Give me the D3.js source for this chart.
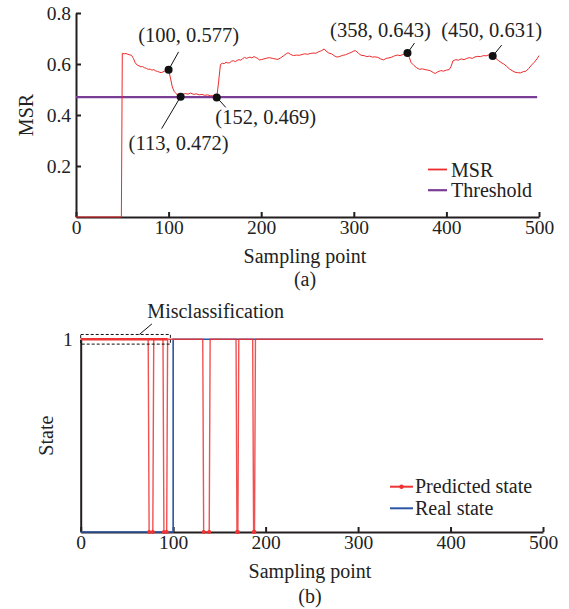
<!DOCTYPE html>
<html>
  <head>
    <meta charset="UTF-8" />
    <title>MSR and state</title>
    <script src="https://cdn.jsdelivr.net/npm/d3@7"></script>
    <style>
      body { margin: 0; background: #fff; }
      svg text { font-family: 'Liberation Serif', 'Times New Roman', 'DejaVu Serif', serif; }
    </style>
  </head>
  <body>
    <svg></svg>
    <script>
      // 1. data
      const xTicks = [0, 100, 200, 300, 400, 500];
      const msrTicks = [0.2, 0.4, 0.6, 0.8];
      const stateTicks = [1];
      const threshold = 0.47;

      // MSR curve: [sampling point, value]
      const msrSeries = [
        [0, 0], [49, 0], [50, 0.642], [52, 0.64], [54, 0.641], [56, 0.638], [58, 0.636],
        [60, 0.634], [62, 0.622], [64, 0.605], [66, 0.596], [68, 0.593], [70, 0.589],
        [72, 0.59], [74, 0.585], [76, 0.583], [78, 0.579], [80, 0.58], [82, 0.576],
        [84, 0.578], [86, 0.573], [88, 0.571], [90, 0.568], [92, 0.566], [94, 0.569],
        [96, 0.573], [98, 0.578], [100, 0.577], [102, 0.545], [104, 0.51], [106, 0.493],
        [108, 0.484], [110, 0.478], [113, 0.472], [115, 0.481], [118, 0.484], [121, 0.482],
        [124, 0.486], [127, 0.481], [130, 0.483], [133, 0.479], [136, 0.481], [139, 0.477],
        [142, 0.479], [145, 0.476], [148, 0.475], [150, 0.472], [152, 0.469], [154, 0.53],
        [156, 0.598], [158, 0.603], [160, 0.601], [162, 0.607], [164, 0.604], [166, 0.605],
        [168, 0.611], [170, 0.613], [172, 0.609], [174, 0.614], [176, 0.617], [178, 0.615],
        [180, 0.621], [182, 0.626], [184, 0.622], [186, 0.625], [188, 0.627], [190, 0.624],
        [192, 0.629], [194, 0.626], [196, 0.622], [198, 0.616], [200, 0.617], [203, 0.62],
        [206, 0.623], [209, 0.625], [212, 0.622], [215, 0.62], [218, 0.618], [221, 0.624],
        [224, 0.632], [227, 0.64], [229, 0.644], [232, 0.637], [235, 0.633], [238, 0.635],
        [241, 0.634], [244, 0.637], [247, 0.64], [250, 0.638], [253, 0.641], [256, 0.643],
        [259, 0.642], [262, 0.648], [265, 0.652], [268, 0.659], [270, 0.651], [273, 0.643],
        [276, 0.64], [279, 0.632], [282, 0.627], [285, 0.63], [288, 0.634], [291, 0.636],
        [294, 0.641], [297, 0.645], [300, 0.651], [302, 0.652], [305, 0.642], [308, 0.634],
        [311, 0.633], [314, 0.629], [317, 0.631], [320, 0.627], [323, 0.628], [326, 0.626],
        [329, 0.62], [332, 0.616], [335, 0.622], [338, 0.624], [341, 0.627], [344, 0.632],
        [347, 0.635], [350, 0.633], [353, 0.637], [356, 0.641], [358, 0.643], [360, 0.625],
        [362, 0.605], [365, 0.594], [368, 0.585], [371, 0.579], [374, 0.581], [377, 0.578],
        [380, 0.576], [383, 0.573], [386, 0.566], [388, 0.563], [391, 0.57], [394, 0.574],
        [397, 0.572], [400, 0.576], [403, 0.578], [405, 0.59], [407, 0.612], [410, 0.617],
        [413, 0.615], [416, 0.62], [419, 0.617], [422, 0.622], [425, 0.625], [428, 0.622],
        [431, 0.628], [434, 0.63], [437, 0.629], [440, 0.633], [443, 0.632], [446, 0.636],
        [448, 0.634], [450, 0.631], [453, 0.623], [456, 0.614], [459, 0.606], [462, 0.6],
        [465, 0.591], [468, 0.581], [471, 0.574], [474, 0.568], [477, 0.566], [480, 0.565],
        [483, 0.57], [486, 0.572], [489, 0.583], [492, 0.596], [495, 0.607], [498, 0.621],
        [500, 0.633]
      ];

      // annotated points
      const annPoints = [[100, 0.577], [113, 0.472], [152, 0.469], [358, 0.643], [450, 0.631]];

      // predicted / real state (change points)
      const predX = [0, 73, 74, 78, 79, 89, 90, 93, 94, 132, 133, 139, 140, 168, 169, 170, 171, 186, 187, 188, 189, 500];
      const predY = [1, 1, 0, 0, 1, 1, 0, 0, 1, 1, 0, 0, 1, 1, 0, 0, 1, 1, 0, 0, 1, 1];
      const realX = [0, 100, 100, 500];
      const realY = [0, 0, 1, 1];
      // misclassification box: x range, y range
      const boxX = [0, 97];
      const boxY = [0.975, 1.025];

      // 2. setup
      const width = 569;
      const height = 609;
      const font = "'Liberation Serif', 'Times New Roman', 'DejaVu Serif', serif";
      const axisColor = '#231f20';
      const colorMsr = '#ee2b2b';
      const colorThr = '#7a3e96';
      const colorPred = '#ee3333';
      const colorReal = '#2b55a6';

      const svg = d3
        .select('svg')
        .attr('width', width)
        .attr('height', height)
        .style('font-family', font)
        .style('font-size', '20px');

      function styleAxis(g) {
        g.attr('font-family', null).attr('font-size', null);
        g.select('.domain').attr('stroke', axisColor).attr('stroke-width', 2);
        g.selectAll('.tick line').attr('stroke', axisColor).attr('stroke-width', 2);
        g.selectAll('.tick text')
          .attr('fill', '#222')
          .style('font-family', font)
          .style('font-size', '19.5px');
      }

      // 3. top chart (a)
      const xA = d3.scaleLinear().domain([0, 500]).range([76, 539]);
      const yA = d3.scaleLinear().domain([0, 0.8]).range([217, 13]);

      svg
        .append('g')
        .attr('transform', `translate(0,${yA(0)})`)
        .call(d3.axisBottom(xA).tickValues(xTicks).tickSizeInner(-5).tickSizeOuter(0).tickPadding(3).tickFormat(d3.format('d')))
        .call(styleAxis);
      svg
        .append('g')
        .attr('transform', `translate(${xA(0)},0)`)
        .call(d3.axisLeft(yA).tickValues(msrTicks).tickSizeInner(-5).tickSizeOuter(0).tickPadding(5).tickFormat(d3.format('.1f')))
        .call(styleAxis);

      svg
        .append('line')
        .attr('x1', xA(0))
        .attr('x2', xA(498))
        .attr('y1', yA(threshold))
        .attr('y2', yA(threshold))
        .attr('stroke', colorThr)
        .attr('stroke-width', 2.2);

      const lineA = d3
        .line()
        .x((d) => xA(d[0]))
        .y((d) => yA(d[1]));
      svg
        .append('path')
        .datum(msrSeries)
        .attr('d', lineA)
        .attr('fill', 'none')
        .attr('stroke', colorMsr)
        .attr('stroke-width', 1);

      // annotations: leader offset and label offset in px
      const annLeader = [[10, -18], [-19, 32], [9, 10], [7, -10], [9, -11]];
      const annLabel = [[20, -28], [-2, 53], [49, 27], [-27, -16], [-1, -19]];
      const ann = svg.append('g');
      annPoints.forEach((p, i) => {
        const cx = xA(p[0]);
        const cy = yA(p[1]);
        ann
          .append('line')
          .attr('x1', cx)
          .attr('y1', cy)
          .attr('x2', cx + annLeader[i][0])
          .attr('y2', cy + annLeader[i][1])
          .attr('stroke', '#111')
          .attr('stroke-width', 1);
        ann.append('circle').attr('cx', cx).attr('cy', cy).attr('r', 4).attr('fill', '#111');
        ann
          .append('text')
          .attr('x', cx + annLabel[i][0])
          .attr('y', cy + annLabel[i][1])
          .attr('text-anchor', 'middle')
          .attr('fill', '#222')
          .style('font-size', '20.5px')
          .text(`(${p[0]}, ${p[1].toFixed(3)})`);
      });

      // legend (a)
      const legA = [
        ['MSR', colorMsr, 1.8],
        ['Threshold', colorThr, 2.2]
      ];
      legA.forEach((d, i) => {
        const y = 169.5 + i * 20.7;
        svg.append('line').attr('x1', 428).attr('x2', 447).attr('y1', y).attr('y2', y).attr('stroke', d[1]).attr('stroke-width', d[2]);
        svg.append('text').attr('x', 451).attr('y', y + 7).attr('fill', '#222').text(d[0]);
      });

      svg.append('text').attr('x', 305).attr('y', 263).attr('text-anchor', 'middle').attr('fill', '#222').text('Sampling point');
      svg.append('text').attr('x', 305).attr('y', 286).attr('text-anchor', 'middle').attr('fill', '#222').text('(a)');
      svg
        .append('text')
        .attr('transform', `translate(33,${(yA(0) + yA(0.8)) / 2}) rotate(-90)`)
        .attr('text-anchor', 'middle')
        .attr('fill', '#222')
        .text('MSR');

      // 4. bottom chart (b)
      const xB = d3.scaleLinear().domain([0, 500]).range([80.7, 543]);
      const yB = d3.scaleLinear().domain([0, 1]).range([532, 339.3]);

      svg
        .append('g')
        .attr('transform', `translate(0,${yB(0)})`)
        .call(d3.axisBottom(xB).tickValues(xTicks).tickSizeInner(-5).tickSizeOuter(0).tickPadding(3).tickFormat(d3.format('d')))
        .call(styleAxis);
      svg
        .append('g')
        .attr('transform', `translate(${xB(0)},0)`)
        .call(d3.axisLeft(yB).tickValues(stateTicks).tickSizeInner(0).tickSizeOuter(0).tickPadding(8).tickFormat(d3.format('d')))
        .call(styleAxis);

      const lineB = d3
        .line()
        .x((d) => xB(d[0]))
        .y((d) => yB(d[1]));
      const realData = realX.map((x, i) => [x, realY[i]]);
      const predData = predX.map((x, i) => [x, predY[i]]);

      svg
        .append('path')
        .datum(realData)
        .attr('d', lineB)
        .attr('fill', 'none')
        .attr('stroke', colorReal)
        .attr('stroke-width', 1.6);
      svg
        .append('path')
        .datum(predData)
        .attr('d', lineB)
        .attr('fill', 'none')
        .attr('stroke', colorPred)
        .attr('stroke-width', 1.4)
        .attr('stroke-opacity', 0.85);
      // thicker band where predicted sits at 1
      svg
        .append('path')
        .datum(predData.filter((d) => d[1] === 1 && d[0] < 100))
        .attr('d', lineB)
        .attr('fill', 'none')
        .attr('stroke', colorPred)
        .attr('stroke-width', 2.6);
      svg
        .append('g')
        .selectAll('circle')
        .data(predData.filter((d) => d[1] === 0))
        .join('circle')
        .attr('cx', (d) => xB(d[0]))
        .attr('cy', (d) => yB(d[1]))
        .attr('r', 2)
        .attr('fill', colorPred);

      // misclassification box
      svg
        .append('rect')
        .attr('x', xB(boxX[0]))
        .attr('y', yB(boxY[1]))
        .attr('width', xB(boxX[1]) - xB(boxX[0]))
        .attr('height', yB(boxY[0]) - yB(boxY[1]))
        .attr('fill', 'none')
        .attr('stroke', '#111')
        .attr('stroke-width', 1)
        .attr('stroke-dasharray', '3,2');
      svg
        .append('line')
        .attr('x1', xB(63.5))
        .attr('y1', yB(boxY[1]))
        .attr('x2', xB(77))
        .attr('y2', yB(1.08))
        .attr('stroke', '#111')
        .attr('stroke-width', 1);
      svg.append('text').attr('x', xB(146)).attr('y', yB(1.111)).attr('text-anchor', 'middle').attr('fill', '#222').text('Misclassification');

      // legend (b)
      const legB = [
        ['Predicted state', colorPred],
        ['Real state', colorReal]
      ];
      legB.forEach((d, i) => {
        const y = 486.7 + i * 21.6;
        svg.append('line').attr('x1', 390).attr('x2', 413).attr('y1', y).attr('y2', y).attr('stroke', d[1]).attr('stroke-width', 2);
        if (i === 0) svg.append('circle').attr('cx', 401.5).attr('cy', y).attr('r', 2.2).attr('fill', d[1]);
        svg.append('text').attr('x', 415).attr('y', y + 6.5).attr('fill', '#222').text(d[0]);
      });

      svg.append('text').attr('x', 310).attr('y', 578).attr('text-anchor', 'middle').attr('fill', '#222').text('Sampling point');
      svg.append('text').attr('x', 310).attr('y', 603).attr('text-anchor', 'middle').attr('fill', '#222').text('(b)');
      svg
        .append('text')
        .attr('transform', `translate(53,${(yB(0) + yB(1)) / 2}) rotate(-90)`)
        .attr('text-anchor', 'middle')
        .attr('fill', '#222')
        .text('State');
    </script>
  </body>
</html>
